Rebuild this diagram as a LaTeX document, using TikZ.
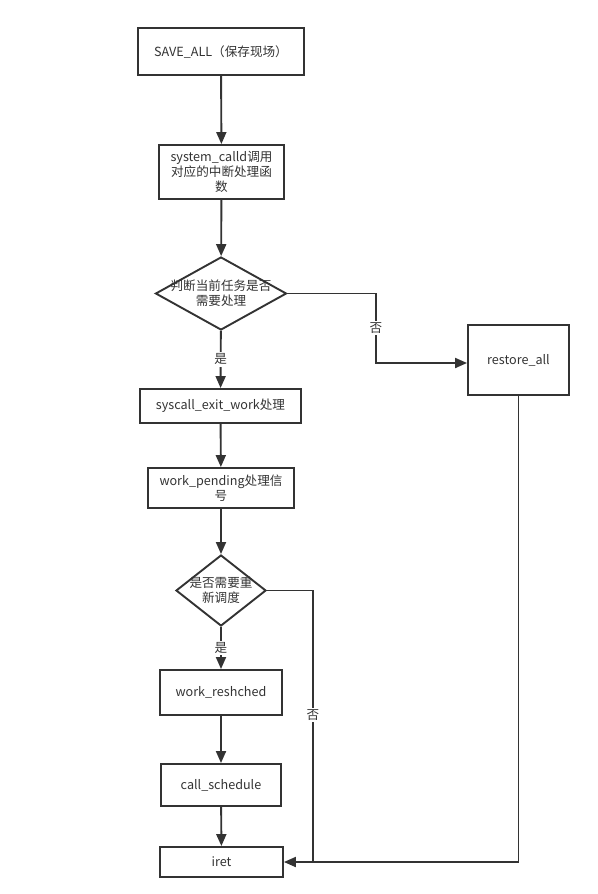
\documentclass[tikz,border=0pt]{standalone}
\usepackage{fontspec}
\setmainfont{Noto Sans CJK SC}
\usetikzlibrary{shapes.geometric,arrows.meta}
\definecolor{ink}{HTML}{333333}
\begin{document}
\begin{tikzpicture}[x=1pt,y=-1pt,
  every node/.style={font=\fontsize{12.6}{15}\selectfont,text=ink,inner sep=0pt},
  box/.style={draw=ink,line width=1.9pt,rectangle,align=center},
  decision/.style={draw=ink,line width=1.9pt,diamond},
  line/.style={draw=ink,line width=1.9pt},
  arr/.style={line,-{Triangle[length=12pt,width=10pt]}},
  tag/.style={fill=white,inner sep=1.5pt}]
\useasboundingbox (0,0) rectangle (597,894);
\node[box,minimum width=166,minimum height=47] (save) at (221,51.5) {SAVE\_ALL（保存现场）};
\node[box,minimum width=125,minimum height=54] (sysc) at (221.5,172) {system\_calld调用\\对应的中断处理函\\数};
\node[decision,minimum width=131,minimum height=73] (chk) at (221,293.5) {};
\node[align=center] at (chk) {判断当前任务是否\\需要处理};
\node[box,minimum width=101,minimum height=70] (restore) at (518.5,360) {restore\_all};
\node[box,minimum width=161,minimum height=34] (exitw) at (220.5,406) {syscall\_exit\_work处理};
\node[box,minimum width=146,minimum height=40] (pend) at (221,488) {work\_pending处理信\\号};
\node[decision,minimum width=90,minimum height=71] (sched) at (221,590.5) {};
\node[align=center] at (sched) {是否需要重\\新调度};
\node[box,minimum width=122,minimum height=45] (resch) at (221,692.5) {work\_reshched};
\node[box,minimum width=120,minimum height=42] (call) at (221,785) {call\_schedule};
\node[box,minimum width=123,minimum height=30] (iret) at (221.5,862) {iret};
\coordinate (j1) at (376,363);
\coordinate (j2) at (313,862);
\draw[arr] (save) -- (sysc);
\draw[arr] (sysc) -- (chk);
\draw[arr] (chk.east) -| node[tag,pos=0.75] {否} (j1) -- (restore.west |- j1);
\draw[arr] (chk) -- node[tag] {是} (exitw);
\draw[arr] (exitw) -- (pend);
\draw[arr] (pend) -- (sched);
\draw[arr] (sched) -- node[tag] {是} (resch);
\draw[arr] (resch) -- (call);
\draw[arr] (call) -- (iret);
\draw[line] (restore.south) |- (j2);
\draw[arr] (sched.east) -| node[tag,pos=0.73] {否} (j2) -- (iret.east);
\end{tikzpicture}
\end{document}
